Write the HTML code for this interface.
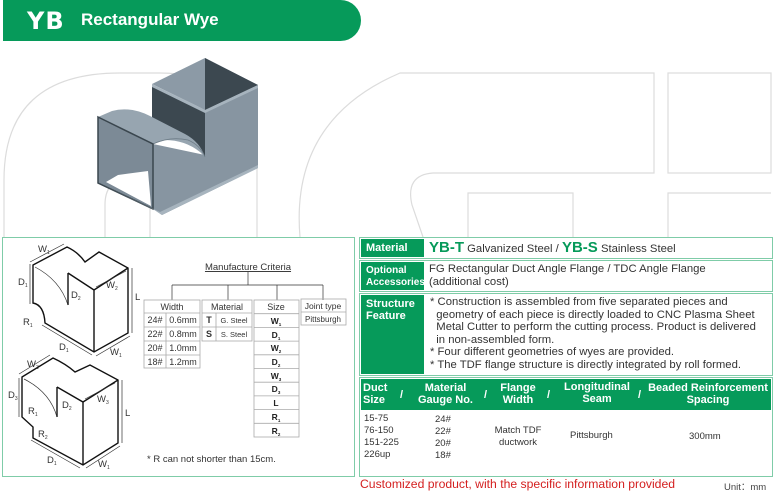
<!DOCTYPE html>
<html><head><meta charset="utf-8"><style>
*{margin:0;padding:0;box-sizing:border-box}
body{width:775px;height:500px;background:#fff;position:relative;overflow:hidden;font-family:"Liberation Sans",Arial,sans-serif;color:#333}
.a{position:absolute}
.hdr{left:3px;top:0;width:358px;height:41px;background:#069a5a;border-radius:0 21px 21px 0;color:#fff;font-weight:bold}
.lbl{background:#069a5a;color:#fff;font-weight:bold;font-size:11px;line-height:12px;padding-left:5px}
.box{border:1.5px solid #7fcca8}
.t{font-size:10.5px;line-height:12.5px;color:#333}
.th{color:#fff;font-weight:bold;font-size:11px;line-height:12px;text-align:center}
.tb{font-size:9.5px;line-height:12px;color:#333}
</style></head><body>
<svg class="a" style="left:0;top:0" width="775" height="500">
 <g fill="none" stroke="#dcdcdc" stroke-width="1.2">
  <path d="M4,237 L4,180 Q4,73 120,73 L160,73 Q257,73 257,170 L257,237"/>
  <path d="M105,237 L105,205 Q105,180 127,180 Q150,180 150,205 L150,237"/>
  <path d="M300,237 Q290,120 400,73 L654,73 L654,173 L433,173 Q405,175 412,205 L423,237"/>
  <rect x="668" y="73" width="103" height="100"/>
  <path d="M468,237 L468,193 L573,193 L573,237"/>
  <path d="M668,237 L668,193 L771,193"/>
 </g>
 <!-- 3D wye -->
 <polygon points="205,110 258,85 258,168 162,215 153,209 153,144 205,155" fill="#8795a1"/>
 <polygon points="152,86 205,110 205,157 190,140 170,132 152,128" fill="#3c4850"/>
 <polygon points="152,84 205,58 258,85 205,110" fill="#8c9aa6"/>
 <polygon points="205,58 258,85 205,110" fill="#3c4850"/>
 <polygon points="152,84 205,110 258,85 258,88 205,113 152,87" fill="#a7b4be"/>
 <path d="M98,117 L112,111 Q130,106 150,116 L185,134 Q200,142 205,157 L200,152 Q185,140 165,140 L153,144 Z" fill="#97a5b0"/>
 <path d="M153,144 Q170,136 188,140 Q200,145 205,157" fill="none" stroke="#6f7e89" stroke-width="0.8"/>
 <polygon points="98,117 153,144 153,209 98,183" fill="#7c8a96"/>
 <polygon points="106,182 118,175 148,171 151,206" fill="#fff"/>
 <polygon points="98,117 153,144 153,209 98,183" fill="none" stroke="#3a464e" stroke-width="1.5"/>
 <polygon points="98,183 153,209 162,215 258,168 258,165 160,212" fill="#a7b4be"/>
 <!-- left panel diagrams -->
 <g fill="none" stroke="#111" stroke-width="1.4">
  <path d="M33,265 L67,247 Q78,252 85,262 L99,252 L128,268 L128,333 L94,352 L45,323 Q44,305 33,303 Z"/>
  <path d="M68,273 L94,290 L128,268 M94,290 L94,352 M68,273 L68,305"/>
  <path d="M22,377 L53,358 Q66,364 75,372 L90,365 L118,380 L118,443 L83,465 L33,438 L33,427 L22,417 Z"/>
  <path d="M57,387 L83,402 L118,380 M83,402 L83,465 M57,387 L57,417"/>
 </g>
 <g fill="none" stroke="#333" stroke-width="0.7">
  <path d="M35,267 Q60,280 68,305"/>
  <path d="M24,379 Q50,392 57,417"/>
  <path d="M30,264 L30,304 M30,262 L64,244 M132,268 L132,333 M42,325 L92,355 M96,356 L130,336 M96,287 L126,271"/>
  <path d="M19,378 L19,417 M19,374 L50,355 M122,380 L122,443 M31,440 L80,468 M86,468 L120,446 M85,399 L115,383"/>
  <path d="M248,272 L248,285 M172,285 L323,285 M172,285 L172,300 M228,285 L228,300 M277,285 L277,300 M323,285 L323,300"/>
 </g>
 <g font-family="Liberation Sans,sans-serif" font-size="9.5" fill="#333">
  <text x="38" y="252">W<tspan font-size="5" dy="2">1</tspan></text>
  <text x="18" y="285">D<tspan font-size="5" dy="2">1</tspan></text>
  <text x="71" y="298">D<tspan font-size="5" dy="2">2</tspan></text>
  <text x="106" y="288">W<tspan font-size="5" dy="2">2</tspan></text>
  <text x="135" y="300">L</text>
  <text x="23" y="325">R<tspan font-size="5" dy="2">1</tspan></text>
  <text x="59" y="350">D<tspan font-size="5" dy="2">1</tspan></text>
  <text x="110" y="355">W<tspan font-size="5" dy="2">1</tspan></text>
  <text x="27" y="367">W<tspan font-size="5" dy="2">3</tspan></text>
  <text x="8" y="398">D<tspan font-size="5" dy="2">3</tspan></text>
  <text x="62" y="408">D<tspan font-size="5" dy="2">2</tspan></text>
  <text x="97" y="402">W<tspan font-size="5" dy="2">3</tspan></text>
  <text x="125" y="416">L</text>
  <text x="28" y="414">R<tspan font-size="5" dy="2">1</tspan></text>
  <text x="38" y="437">R<tspan font-size="5" dy="2">2</tspan></text>
  <text x="47" y="463">D<tspan font-size="5" dy="2">1</tspan></text>
  <text x="98" y="467">W<tspan font-size="5" dy="2">1</tspan></text>
  <text x="248" y="270" text-anchor="middle" font-size="9.5" text-decoration="underline">Manufacture Criteria</text>
  <text x="147" y="462" font-size="9.5">* R can not shorter than 15cm.</text>
 </g>
 <!-- tables -->
 <g fill="none" stroke="#aaa" stroke-width="0.8">
  <rect x="144" y="300" width="56" height="68"/>
  <path d="M144,313 L200,313 M144,327 L200,327 M144,341 L200,341 M144,355 L200,355 M166,313 L166,368"/>
  <rect x="202" y="300" width="50" height="41"/>
  <path d="M202,313 L252,313 M202,327 L252,327 M216,313 L216,341"/>
  <rect x="254" y="300" width="45" height="137"/>
  <path d="M254,313.7 H299 M254,327.4 H299 M254,341.1 H299 M254,354.8 H299 M254,368.5 H299 M254,382.2 H299 M254,395.9 H299 M254,409.6 H299 M254,423.3 H299"/>
  <rect x="301" y="299" width="45" height="26"/>
  <path d="M301,312 H346"/>
 </g>
 <g font-family="Liberation Sans,sans-serif" font-size="9" fill="#333" text-anchor="middle">
  <text x="172" y="310">Width</text>
  <text x="155" y="323">24#</text><text x="183" y="323">0.6mm</text>
  <text x="155" y="337">22#</text><text x="183" y="337">0.8mm</text>
  <text x="155" y="351">20#</text><text x="183" y="351">1.0mm</text>
  <text x="155" y="365">18#</text><text x="183" y="365">1.2mm</text>
  <text x="227" y="310">Material</text>
  <text x="209" y="323" font-weight="bold">T</text><text x="234" y="323" font-size="7.5">G. Steel</text>
  <text x="209" y="337" font-weight="bold">S</text><text x="234" y="337" font-size="7.5">S. Steel</text>
  <text x="276" y="310">Size</text>
  <text x="323" y="309" font-size="8.5">Joint type</text>
  <text x="323" y="322" font-size="8">Pittsburgh</text>
 </g>
 <g font-family="Liberation Sans,sans-serif" font-size="8.5" fill="#222" font-weight="bold" text-anchor="middle">
  <text x="276" y="324">W<tspan font-size="4.5" dy="2">1</tspan></text>
  <text x="276" y="338">D<tspan font-size="4.5" dy="2">1</tspan></text>
  <text x="276" y="351">W<tspan font-size="4.5" dy="2">2</tspan></text>
  <text x="276" y="365">D<tspan font-size="4.5" dy="2">2</tspan></text>
  <text x="276" y="379">W<tspan font-size="4.5" dy="2">3</tspan></text>
  <text x="276" y="392">D<tspan font-size="4.5" dy="2">3</tspan></text>
  <text x="276" y="406">L</text>
  <text x="276" y="420">R<tspan font-size="4.5" dy="2">1</tspan></text>
  <text x="276" y="434">R<tspan font-size="4.5" dy="2">2</tspan></text>
 </g>
</svg>
<div class="a hdr"><span class="a" style="left:24px;top:7px;font-size:24px;font-family:'DejaVu Sans',sans-serif;letter-spacing:1px">YB</span><span class="a" style="left:78px;top:10px;font-size:17px">Rectangular Wye</span></div>
<div class="a box" style="left:2px;top:237px;width:353px;height:240px"></div>

<div class="a box" style="left:359px;top:237px;width:414px;height:22px"></div>
<div class="a lbl" style="left:361px;top:239px;width:63px;height:18px;line-height:18px">Material</div>
<div class="a t" style="left:429px;top:239px;font-size:11.3px;line-height:18px"><b style="color:#069a5a;font-size:15px">YB-T</b> Galvanized Steel / <b style="color:#069a5a;font-size:15px">YB-S</b> Stainless Steel</div>

<div class="a box" style="left:359px;top:260px;width:414px;height:32px"></div>
<div class="a lbl" style="left:361px;top:262px;width:63px;height:28px;padding-top:3px;font-size:10px">Optional<br>Accessories</div>
<div class="a t" style="left:429px;top:263px;font-size:11.3px">FG Rectangular Duct Angle Flange / TDC Angle Flange<br>(additional cost)</div>

<div class="a box" style="left:359px;top:293px;width:414px;height:83px"></div>
<div class="a lbl" style="left:361px;top:295px;width:63px;height:79px;padding-top:3px">Structure<br>Feature</div>
<div class="a t" style="left:430px;top:296px;font-size:11.3px">* Construction is assembled from five separated pieces and<br>&nbsp;&nbsp;geometry of each piece is directly loaded to CNC Plasma Sheet<br>&nbsp;&nbsp;Metal Cutter to perform the cutting process. Product is delivered<br>&nbsp;&nbsp;in non-assembled form.<br>* Four different geometries of wyes are provided.<br>* The TDF flange structure is directly integrated by roll formed.</div>

<div class="a box" style="left:359px;top:377px;width:414px;height:100px"></div>
<div class="a" style="left:361px;top:379px;width:410px;height:31px;background:#069a5a"></div>
<div class="a th" style="left:363px;top:382px;text-align:left">Duct<br>Size</div>
<div class="a th" style="left:400px;top:389px">/</div>
<div class="a th" style="left:413px;top:382px;width:65px">Material<br>Gauge No.</div>
<div class="a th" style="left:484px;top:389px">/</div>
<div class="a th" style="left:494px;top:382px;width:48px">Flange<br>Width</div>
<div class="a th" style="left:547px;top:389px">/</div>
<div class="a th" style="left:557px;top:381px;width:80px">Longitudinal<br>Seam</div>
<div class="a th" style="left:638px;top:389px">/</div>
<div class="a th" style="left:647px;top:382px;width:122px">Beaded Reinforcement<br>Spacing</div>
<div class="a tb" style="left:364px;top:413px">15-75<br>76-150<br>151-225<br>226up</div>
<div class="a tb" style="left:435px;top:414px">24#<br>22#<br>20#<br>18#</div>
<div class="a tb" style="left:488px;top:425px;width:60px;text-align:center">Match TDF<br>ductwork</div>
<div class="a tb" style="left:570px;top:430px">Pittsburgh</div>
<div class="a tb" style="left:689px;top:431px">300mm</div>
<div class="a" style="left:360px;top:477px;font-size:12.2px;color:#d42020">Customized product, with the specific information provided</div>
<div class="a" style="left:724px;top:479px;font-size:9.5px;color:#444">Unit：mm</div>
</body></html>
